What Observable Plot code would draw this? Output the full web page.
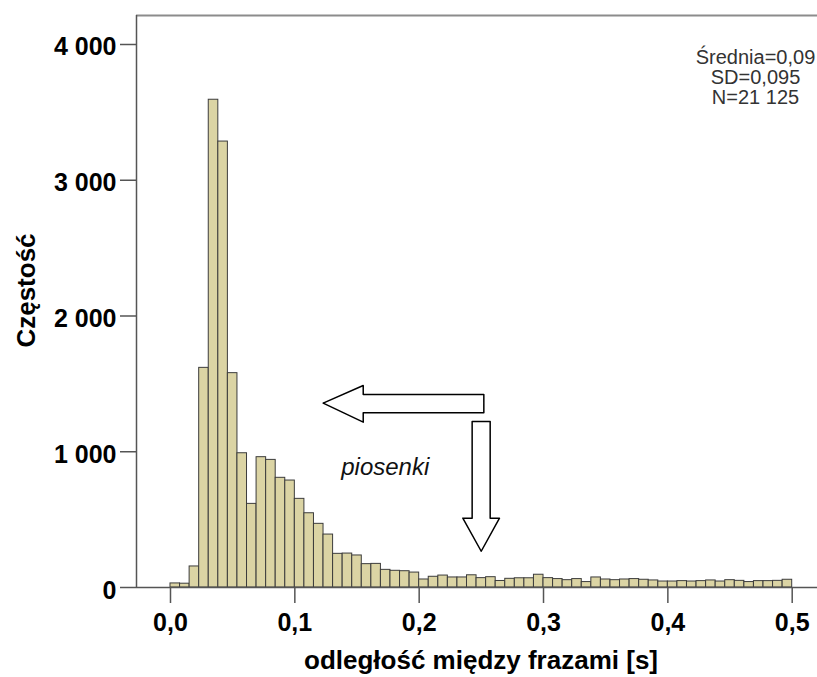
<!DOCTYPE html>
<html>
<head>
<meta charset="utf-8">
<script src="https://cdn.jsdelivr.net/npm/d3@7"></script>
<script src="https://cdn.jsdelivr.net/npm/@observablehq/plot@0.6"></script>
<style>
  html, body { margin: 0; padding: 0; background: white; }
</style>
</head>
<body>
<div id="chart"></div>
<script>
// Histogram counts: 65 bins from 0 to 0.5 s
const counts = [30, 28, 155, 1618, 3593, 3285, 1579, 989, 616, 960,
                940, 808, 788, 653, 547, 469, 390, 248, 250, 236,
                172, 174, 130, 123, 120, 110, 59, 79, 88, 74,
                74, 90, 69, 76, 48, 64, 68, 68, 94, 69,
                62, 54, 62, 40, 74, 59, 54, 59, 62, 57,
                52, 44, 44, 47, 44, 47, 52, 44, 54, 49,
                40, 47, 47, 49, 57];
const binStart = 0;
const binEnd = 0.5;
const xTicks = [0, 0.1, 0.2, 0.3, 0.4, 0.5];
const yTicks = [0, 1000, 2000, 3000, 4000];
const statsLines = ["Średnia=0,09", "SD=0,095", "N=21 125"];
const xTitle = "odległość między frazami [s]";
const yTitle = "Częstość";
const annotationLabel = ["piosenki"];
const annotationAt = [{x: 0.1373, y: 832}];
// Arrow outlines (data units: seconds, count)
const leftArrow = [
  [0.1228, 1358], [0.155, 1488], [0.155, 1422], [0.252, 1422],
  [0.252, 1287], [0.155, 1287], [0.155, 1218], [0.1228, 1358]
];
const downArrow = [
  [0.2426, 1223], [0.2571, 1223], [0.2571, 511], [0.2646, 511],
  [0.2499, 267], [0.2351, 511], [0.2426, 511], [0.2426, 1223]
];

const xDomain = [-0.02734, 0.52035];
const yDomain = [0, 4213.6];

const binWidth = (binEnd - binStart) / counts.length;
const bins = counts.map((c, i) => ({x1: binStart + i * binWidth, x2: binStart + (i + 1) * binWidth, count: c}));

const fmtX = d => d.toFixed(1).replace(".", ",");
const fmtY = d => d3.format(",")(d).replace(/,/g, " ");

const font = "'Liberation Sans', Arial, sans-serif";

const chart = Plot.plot({
  width: 817,
  height: 677,
  marginLeft: 136,
  marginRight: 0,
  marginTop: 15,
  marginBottom: 90,
  style: {fontFamily: font, background: "white", color: "black", overflow: "visible"},
  x: {domain: xDomain, label: null},
  y: {domain: yDomain, label: null},
  marks: [
    Plot.ruleY([yDomain[1]], {stroke: "#8c8c8c", strokeWidth: 2}),
    Plot.rectY(bins, {x1: "x1", x2: "x2", y: "count", fill: "#dbd4a4", stroke: "#3c3c3c", strokeWidth: 1}),
    Plot.ruleY([0], {stroke: "#555", strokeWidth: 1.5}),
    Plot.ruleX([xDomain[0]], {stroke: "#555", strokeWidth: 1.5}),
    Plot.axisX({ticks: xTicks, tickSize: 16, tickPadding: 10, tickFormat: fmtX,
                fontSize: 25, fontWeight: "bold", stroke: "#555", strokeWidth: 1.5, label: null}),
    Plot.axisY({ticks: yTicks, tickSize: 16, tickFormat: () => "", stroke: "#555", strokeWidth: 1.5, label: null}),
    Plot.axisY({ticks: yTicks, tickSize: 0, tickPadding: 20, dy: 3, tickFormat: fmtY,
                fontSize: 25, fontWeight: "bold", label: null}),
    Plot.line(leftArrow, {x: d => d[0], y: d => d[1], fill: "white", stroke: "black", strokeWidth: 1.5, curve: "linear"}),
    Plot.line(downArrow, {x: d => d[0], y: d => d[1], fill: "white", stroke: "black", strokeWidth: 1.5, curve: "linear"}),
    Plot.text(annotationAt, {x: "x", y: "y", text: () => annotationLabel[0], textAnchor: "start", lineAnchor: "bottom",
                fontSize: 24, fontStyle: "italic", fill: "#111"}),
    Plot.text([statsLines.join("\n")], {frameAnchor: "top-right", dx: -62, dy: 34, textAnchor: "middle",
                lineAnchor: "top", lineHeight: 1, fontSize: 20, fill: "#333"}),
    Plot.text([xTitle], {frameAnchor: "bottom", dx: 4, dy: 81, lineAnchor: "bottom", textAnchor: "middle",
                fontSize: 26, fontWeight: "bold", fill: "black"}),
    Plot.text([yTitle], {frameAnchor: "left", dx: -110, dy: -11, rotate: -90, lineAnchor: "middle", textAnchor: "middle",
                fontSize: 26, fontWeight: "bold", fill: "black"})
  ]
});
document.getElementById("chart").appendChild(chart);
</script>
</body>
</html>
